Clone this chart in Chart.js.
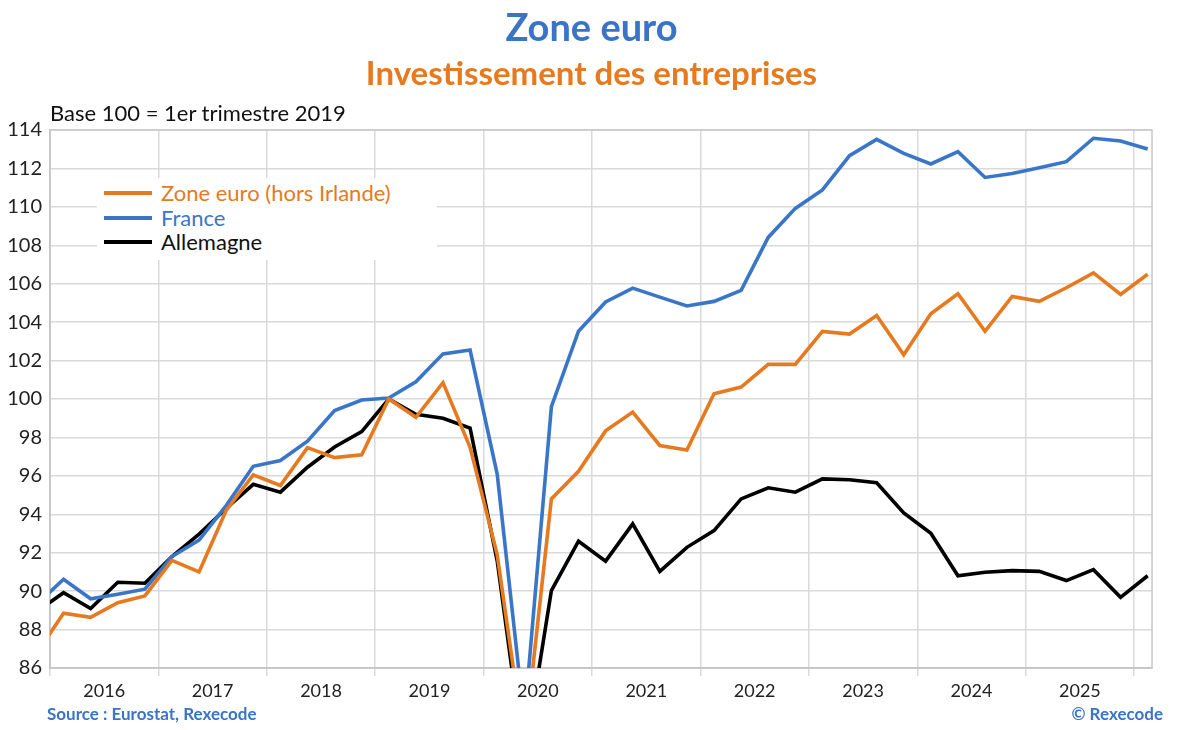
<!DOCTYPE html>
<html lang="fr">
<head>
<meta charset="utf-8">
<title>Zone euro - Investissement des entreprises</title>
<script src="https://cdn.jsdelivr.net/npm/chart.js@4.4.1/dist/chart.umd.min.js"></script>
<style>
  html, body { margin: 0; padding: 0; background: #fff; }
  #page { position: relative; width: 1183px; height: 730px; overflow: hidden; font-family: Lato, "Open Sans", sans-serif; }
  #chart { position: absolute; left: 0; top: 0; }
  .title { position: absolute; left: 0; width: 1183px; text-align: center; font-weight: 700; }
  #t1 { top: 3px; font-size: 38px; color: #3a74c6; }
  #t2 { top: 52px; font-size: 33px; color: #e57a20; }
  #base { position: absolute; left: 50px; top: 99px; font-size: 22px; color: #111; }
  #legend { position: absolute; left: 97px; top: 178px; width: 340px; height: 82px; background: #fff; }
  .row { position: absolute; left: 7px; height: 24px; font-size: 22px; line-height: 24px; }
  .row span.sw { position: absolute; left: 0; top: 10px; width: 48px; height: 4px; }
  .row span.tx { position: absolute; left: 57px; top: 0; white-space: nowrap; }
  .foot { position: absolute; top: 703px; font-size: 17px; font-weight: 700; color: #3a74c6; }
</style>
</head>
<body>
<div id="page">
  <canvas id="chart" width="1183" height="730"></canvas>
  <div class="title" id="t1">Zone euro</div>
  <div class="title" id="t2">Investissement des entreprises</div>
  <div id="base">Base 100 = 1er trimestre 2019</div>
  <div id="legend"></div>
  <div class="foot" style="left:47px">Source : Eurostat, Rexecode</div>
  <div class="foot" style="right:20px">© Rexecode</div>
</div>
<script>
const quarters = [
  '2015T4',
  '2016T1', '2016T2', '2016T3', '2016T4',
  '2017T1', '2017T2', '2017T3', '2017T4',
  '2018T1', '2018T2', '2018T3', '2018T4',
  '2019T1', '2019T2', '2019T3', '2019T4',
  '2020T1', '2020T2', '2020T3', '2020T4',
  '2021T1', '2021T2', '2021T3', '2021T4',
  '2022T1', '2022T2', '2022T3', '2022T4',
  '2023T1', '2023T2', '2023T3', '2023T4',
  '2024T1', '2024T2', '2024T3', '2024T4',
  '2025T1', '2025T2', '2025T3', '2025T4',
  '2026T1'
];
const years = ['2016', '2017', '2018', '2019', '2020', '2021', '2022', '2023', '2024', '2025'];
const yTicks = [86, 88, 90, 92, 94, 96, 98, 100, 102, 104, 106, 108, 110, 112, 114];

const zoneEuro = [
  86.75, 88.85, 88.64, 89.4, 89.75, 91.6, 91.0, 94.2, 96.05, 95.5, 97.47, 96.95, 97.09,
  100.0, 99.05, 100.85, 97.48, 91.9, 82.0, 94.8, 96.24, 98.34, 99.32, 97.58, 97.35,
  100.27, 100.62, 101.8, 101.8, 103.52, 103.38, 104.35, 102.3, 104.44, 105.48, 103.52,
  105.34, 105.08, 105.79, 106.56, 105.44, 106.49
];
const france = [
  89.3, 90.62, 89.6, 89.84, 90.1, 91.8, 92.66, 94.45, 96.5, 96.8, 97.8, 99.4, 99.95,
  100.05, 100.9, 102.35, 102.55, 96.09, 83.3, 99.6, 103.53, 105.05, 105.77, 105.3, 104.84,
  105.08, 105.65, 108.41, 109.92, 110.88, 112.66, 113.51, 112.78, 112.23, 112.87, 111.53,
  111.74, 112.04, 112.35, 113.57, 113.43, 113.01
];
const allemagne = [
  88.92, 89.92, 89.1, 90.46, 90.41, 91.8, 92.97, 94.3, 95.56, 95.15, 96.45, 97.5, 98.3,
  100.0, 99.2, 99.0, 98.49, 91.58, 81.2, 90.03, 92.6, 91.56, 93.5, 91.03, 92.28,
  93.15, 94.8, 95.38, 95.15, 95.84, 95.8, 95.64, 94.07, 93.01, 90.8, 90.98,
  91.07, 91.03, 90.55, 91.12, 89.68, 90.8
];

const ORANGE = '#e57a20';
const BLUE = '#3a76c8';
const BLACK = '#000000';

// quarter i sits in the middle of its slot, year ticks every 4 slots starting at 2016T1
function toPoints(values) {
    return values.map((v, i) => ({ x: i - 0.5, y: v, q: quarters[i] }));
}

const series = [
    { label: 'Zone euro (hors Irlande)', values: zoneEuro, color: ORANGE, text: ORANGE },
    { label: 'France', values: france, color: BLUE, text: BLUE },
    { label: 'Allemagne', values: allemagne, color: BLACK, text: '#111' }
];

// legend box on top of the plot
const legendBox = document.getElementById('legend');
series.forEach((s, i) => {
    const row = document.createElement('div');
    row.className = 'row';
    row.style.top = (3 + i * 24.5) + 'px';
    row.innerHTML = '<span class="sw" style="background:' + s.color + '"></span>' +
        '<span class="tx" style="color:' + s.text + '">' + s.label + '</span>';
    legendBox.appendChild(row);
});

const plotFrame = {
    id: 'plotFrame',
    beforeDatasetsDraw(chart) {
        const a = chart.chartArea;
        const ctx = chart.ctx;
        ctx.save();
        ctx.strokeStyle = '#c8c8c8';
        ctx.lineWidth = 1.5;
        ctx.strokeRect(a.left, a.top, a.right - a.left, a.bottom - a.top);
        ctx.restore();
    }
};

const ctx = document.getElementById('chart').getContext('2d');
new Chart(ctx, {
    type: 'line',
    data: {
        datasets: series.map(s => ({
            label: s.label,
            data: toPoints(s.values),
            borderColor: s.color,
            backgroundColor: s.color,
            borderWidth: 3.6,
            pointRadius: 0,
            tension: 0,
            clip: 0,
            borderJoinStyle: 'miter'
        }))
    },
    options: {
        responsive: false,
        animation: false,
        layout: { padding: { top: 130, right: 31, left: 0, bottom: 0 } },
        plugins: {
            legend: { display: false },
            tooltip: { enabled: false }
        },
        scales: {
            x: {
                type: 'linear',
                min: 0,
                max: 40.66,
                afterBuildTicks(scale) {
                    const t = [];
                    for (let v = 0; v <= 40; v += 2) t.push({ value: v });
                    scale.ticks = t;
                },
                afterFit(scale) { scale.height = 62; },
                grid: {
                    color: c => (c.tick && c.tick.value % 4 === 0) ? '#dadada' : 'rgba(0,0,0,0)',
                    lineWidth: 1.5,
                    tickLength: 8,
                    drawTicks: true
                },
                border: { color: '#bdbdbd', width: 1.5 },
                ticks: {
                    autoSkip: false,
                    maxRotation: 0,
                    padding: 4,
                    color: '#222',
                    font: { family: 'Lato', size: 18 },
                    callback: v => (v % 4 === 2) ? years[(v - 2) / 4] : ''
                }
            },
            y: {
                min: 86,
                max: 114,
                afterBuildTicks(scale) {
                    scale.ticks = yTicks.map(v => ({ value: v }));
                },
                afterFit(scale) { scale.width = 50; },
                grid: { color: '#dadada', lineWidth: 1.5, drawTicks: false },
                border: { color: '#bdbdbd', width: 1.5 },
                ticks: {
                    padding: 8,
                    color: '#222',
                    font: { family: 'Lato', size: 20 }
                }
            }
        }
    },
    plugins: [plotFrame]
});
</script>
</body>
</html>
